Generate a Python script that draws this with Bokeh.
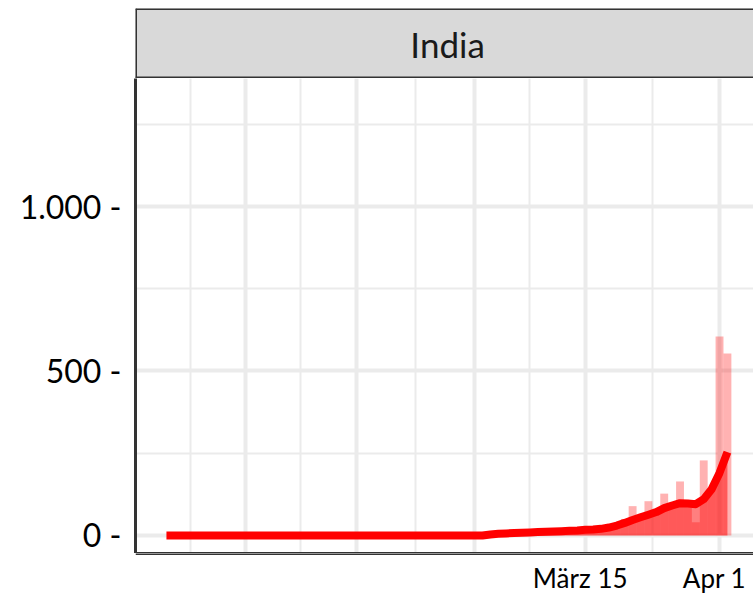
import pandas as pd
from bokeh.plotting import figure
from bokeh.models import ColumnDataSource, FixedTicker, Range1d, Span
from bokeh.layouts import column
from bokeh.core.properties import value
from bokeh.embed import file_html
from bokeh.resources import INLINE

# ---------------- data ----------------
facet_label = "India"
dates = pd.date_range("2020-01-22", "2020-04-02", freq="D")

# 7-day smoothed new cases (red line)
smoothed = ([0] * 41 +
            [3, 5, 6, 7, 8, 9, 10, 11, 12, 13, 14, 15, 17, 18, 20, 24] +
            [30, 38, 47, 55, 63, 71, 83, 91, 98, 97, 95, 110, 140, 190, 253])

# daily new cases (bars)
daily = ([0] * 41 +
         [3, 5, 6, 7, 8, 9, 10, 11, 12, 13, 14, 15, 17, 18, 20, 24] +
         [30, 50, 89, 55, 104, 71, 127, 91, 164, 97, 40, 228, 140, 605, 553])

y_ticks = [0, 500, 1000]
y_minor = [250, 750, 1250]
y_tick_labels = ["0 -", "500 -", "1.000 -"]

x_tick_dates = ["2020-03-15", "2020-04-01"]
x_tick_labels = ["März 15", "Apr 1"]
x_grid_major = ["2020-02-01", "2020-02-15", "2020-03-01", "2020-03-15", "2020-04-01"]
x_grid_minor = ["2020-01-25", "2020-02-08", "2020-02-22 12:00", "2020-03-08", "2020-03-23 12:00"]


def ms(d):
    return pd.Timestamp(d).value // 10**6


src = ColumnDataSource(dict(date=dates, daily=daily, smoothed=smoothed))
lab_src = ColumnDataSource(dict(date=pd.to_datetime(x_tick_dates), label=x_tick_labels))

W = 753
LEFT = 135
FONT = "Lato"
DARK = "#333333"

x_range = Range1d(pd.Timestamp("2020-01-18 02:00"), pd.Timestamp("2020-04-05 07:12"))

# ---------------- strip ----------------
strip = figure(width=W, height=78, x_range=Range1d(0, 1), y_range=Range1d(0, 1),
               output_backend="svg", toolbar_location=None,
               min_border_left=LEFT, min_border_right=0, min_border_top=8, min_border_bottom=0)
strip.axis.visible = False
strip.grid.visible = False
strip.outline_line_color = None
strip.background_fill_color = "#D9D9D9"
strip.border_fill_color = "white"
strip.text(x=[0.505], y=[0.50], text=[facet_label], text_font=value(FONT),
           text_font_size="35px", text_color="#1A1A1A", text_align="center",
           text_baseline="middle")
strip.add_layout(Span(location=0, dimension="height", line_color=DARK, line_width=3))
strip.add_layout(Span(location=1, dimension="width", line_color=DARK, line_width=3))
strip.add_layout(Span(location=0, dimension="width", line_color=DARK, line_width=4))

# ---------------- main panel ----------------
p = figure(width=W, height=475, x_axis_type="datetime", x_range=x_range,
           y_range=Range1d(-55, 1389),
           output_backend="svg", toolbar_location=None,
           min_border_left=LEFT, min_border_right=0, min_border_top=0, min_border_bottom=0)
p.outline_line_color = None
p.background_fill_color = "white"
p.border_fill_color = "white"
p.xaxis.visible = False

# grid
p.xgrid.ticker = FixedTicker(ticks=[ms(d) for d in x_grid_major],
                             minor_ticks=[ms(d) for d in x_grid_minor])
p.ygrid.ticker = FixedTicker(ticks=y_ticks, minor_ticks=y_minor)
for g in (p.xgrid, p.ygrid):
    g.grid_line_color = "#EBEBEB"
    g.grid_line_width = 4
    g.minor_grid_line_color = "#EBEBEB"
    g.minor_grid_line_width = 2

# y axis
ax = p.yaxis[0]
ax.ticker = FixedTicker(ticks=y_ticks)
ax.major_label_overrides = {t: l for t, l in zip(y_ticks, y_tick_labels)}
ax.axis_line_color = DARK
ax.axis_line_width = 3
ax.major_tick_line_color = None
ax.minor_tick_line_color = None
ax.major_tick_out = 0
ax.major_tick_in = 0
ax.minor_tick_out = 0
ax.minor_tick_in = 0
ax.major_label_text_font = FONT
ax.major_label_text_color = "black"
ax.major_label_text_font_size = "32px"
ax.major_label_standoff = 14

p.add_layout(Span(location=-55, dimension="width", line_color=DARK, line_width=3))

# marks
p.vbar(x="date", top="daily", width=86400000, source=src,
       fill_color="red", fill_alpha=0.3, line_color=None)
p.varea(x="date", y1=0, y2="smoothed", source=src, fill_color="red", fill_alpha=0.5)
p.line(x="date", y="smoothed", source=src, line_color="red", line_width=8,
       line_join="round")

# ---------------- x tick labels ----------------
lab = figure(width=W, height=45, x_range=x_range, y_range=Range1d(0, 1),
             x_axis_type="datetime", output_backend="svg", toolbar_location=None,
             min_border_left=LEFT, min_border_right=0, min_border_top=0, min_border_bottom=0)
lab.axis.visible = False
lab.grid.visible = False
lab.outline_line_color = None
lab.background_fill_color = "white"
lab.border_fill_color = "white"
lab.text(x="date", y=0.45, text="label", source=lab_src, text_font=value(FONT),
         text_font_size="26px", text_color="black", text_align="center",
         text_baseline="middle", x_offset=-5)
lab.add_layout(Span(location=1, dimension="width", line_color=DARK, line_width=3))

layout = column(strip, p, lab, spacing=0)
open("out.html", "w").write(file_html(layout, INLINE))
